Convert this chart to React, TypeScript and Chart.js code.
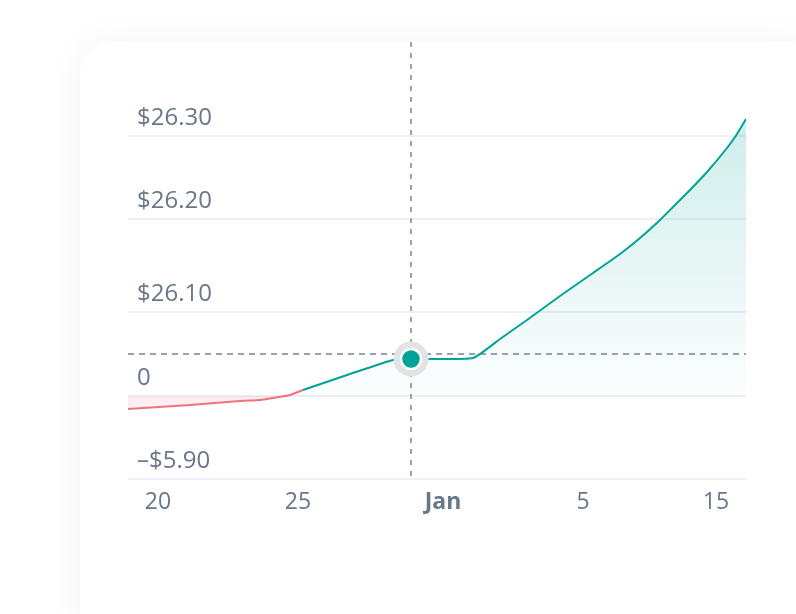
import React, { useEffect, useRef } from "react";
import { Chart, registerables } from "chart.js";

Chart.register(...registerables);

// Data (x in day-position units, y in chart value units)
const lineX = [0, 62, 112, 132, 145, 162, 175, 222, 265, 283, 345, 372, 399, 432, 465, 492, 512, 532, 545, 562, 579, 599, 609, 618];
const lineY = [70, 74, 78, 79, 81, 84, 89, 105, 119, 120, 121, 140, 159, 183, 206, 225, 241, 259, 272, 289, 307, 331, 345, 360];
const redPointCount = 6; // segments before this index drawn red

const xTickValues = [30, 170, 315, 455, 588];
const xTickLabels = ["20", "25", "Jan", "5", "15"];
const yTickValues = [0, 83, 167, 260, 343];
const yTickLabels = ["–$5.90", "0", "$26.10", "$26.20", "$26.30"];
const baselineValue = 83;

const markerX = [283];
const markerY = [120];
const crosshairX = 283;
const crosshairY = 125;

const TEAL = "#00a396";
const RED = "#f07282";
const LABEL = "#687889";
const FONT = "'Open Sans', 'Noto Sans', sans-serif";

export default function App() {
  const ref = useRef<HTMLCanvasElement | null>(null);

  useEffect(() => {
    const canvas = ref.current;
    if (!canvas) return;

    const crosshair = {
      id: "crosshair",
      beforeDatasetsDraw(chart: any) {
        const { ctx, chartArea, scales } = chart;
        const x = scales.x.getPixelForValue(crosshairX);
        const y = scales.y.getPixelForValue(crosshairY);
        ctx.save();
        ctx.strokeStyle = "#9ba2ab";
        ctx.lineWidth = 2;
        ctx.setLineDash([6, 5]);
        ctx.beginPath();
        ctx.moveTo(chartArea.left, y);
        ctx.lineTo(chartArea.right, y);
        ctx.stroke();
        ctx.setLineDash([5, 6]);
        ctx.beginPath();
        ctx.moveTo(x, 42);
        ctx.lineTo(x, chartArea.bottom);
        ctx.stroke();
        ctx.restore();
      },
    };

    const chart = new Chart(canvas, {
      type: "line",
      data: {
        datasets: [
          {
            type: "scatter",
            data: markerX.map((x, i) => ({ x, y: markerY[i] })),
            pointRadius: 10,
            pointBackgroundColor: TEAL,
            pointBorderColor: "#ffffff",
            pointBorderWidth: 2.5,
            order: 0,
          } as any,
          {
            type: "scatter",
            data: markerX.map((x, i) => ({ x, y: markerY[i] })),
            pointRadius: 17.5,
            pointBackgroundColor: "#e1e3e4",
            pointBorderWidth: 0,
            order: 1,
          } as any,
          {
            data: lineX.map((x, i) => ({ x, y: lineY[i] })),
            borderColor: TEAL,
            borderWidth: 2,
            pointRadius: 0,
            tension: 0.15,
            fill: {
              target: { value: baselineValue },
              above: "rgba(0,163,150,0.15)",
              below: "rgba(240,100,120,0.12)",
            },
            segment: {
              borderColor: (c: any) => (c.p0DataIndex < redPointCount ? RED : TEAL),
            },
            order: 2,
          } as any,
        ],
      },
      options: {
        animation: false,
        responsive: false,
        events: [],
        layout: { padding: { left: 128, right: 50, top: 99, bottom: 0 } },
        plugins: { legend: { display: false }, tooltip: { enabled: false } },
        scales: {
          x: {
            type: "linear",
            min: 0,
            max: 618,
            afterBuildTicks: (s: any) => {
              s.ticks = xTickValues.map((v) => ({ value: v }));
            },
            afterFit: (s: any) => {
              s.height = 135;
            },
            grid: { display: false, drawTicks: false },
            border: { display: false },
            ticks: {
              autoSkip: false,
              maxRotation: 0,
              padding: 10,
              color: LABEL,
              font: (c: any) => ({ family: FONT, size: 23, weight: c.index === 2 ? "bold" : "normal" }),
              callback: (_v: any, i: number) => xTickLabels[i],
            },
          },
          y: {
            type: "linear",
            min: 0,
            max: 380,
            afterBuildTicks: (s: any) => {
              s.ticks = yTickValues.map((v) => ({ value: v }));
            },
            afterFit: (s: any) => {
              s.width = 0;
            },
            grid: { color: "#eef0f4", lineWidth: 2, drawTicks: false },
            border: { display: false },
            ticks: {
              mirror: true,
              padding: 9,
              labelOffset: -18,
              color: LABEL,
              font: { family: FONT, size: 24 },
              callback: (_v: any, i: number) => yTickLabels[i],
            },
          },
        },
      },
      plugins: [crosshair],
    } as any);

    const ys = chart.scales.y;
    const ctx = chart.ctx;
    const topPx = ys.getPixelForValue(Math.max(...lineY));
    const basePx = ys.getPixelForValue(baselineValue);
    const lowPx = ys.getPixelForValue(Math.min(...lineY));
    const g = ctx.createLinearGradient(0, topPx, 0, basePx);
    g.addColorStop(0, "rgba(0,163,150,0.19)");
    g.addColorStop(1, "rgba(0,163,150,0.01)");
    const r = ctx.createLinearGradient(0, basePx, 0, lowPx);
    r.addColorStop(0, "rgba(240,100,120,0.14)");
    r.addColorStop(1, "rgba(240,100,120,0.06)");
    const ds: any = chart.data.datasets[2];
    ds.fill = { target: { value: baselineValue }, above: g, below: r };
    chart.update("none");

    return () => chart.destroy();
  }, []);

  return (
    <div style={{ position: "fixed", left: 0, top: 0, width: 796, height: 614, background: "#ffffff", overflow: "hidden" }}>
      <div
        style={{
          position: "absolute",
          left: 80,
          top: 42,
          width: 740,
          height: 600,
          borderRadius: 32,
          background: "#ffffff",
          boxShadow: "0 0 40px rgba(0,0,0,0.05)",
        }}
      />
      <canvas ref={ref} width={796} height={614} style={{ position: "absolute", left: 0, top: 0 }} />
    </div>
  );
}
